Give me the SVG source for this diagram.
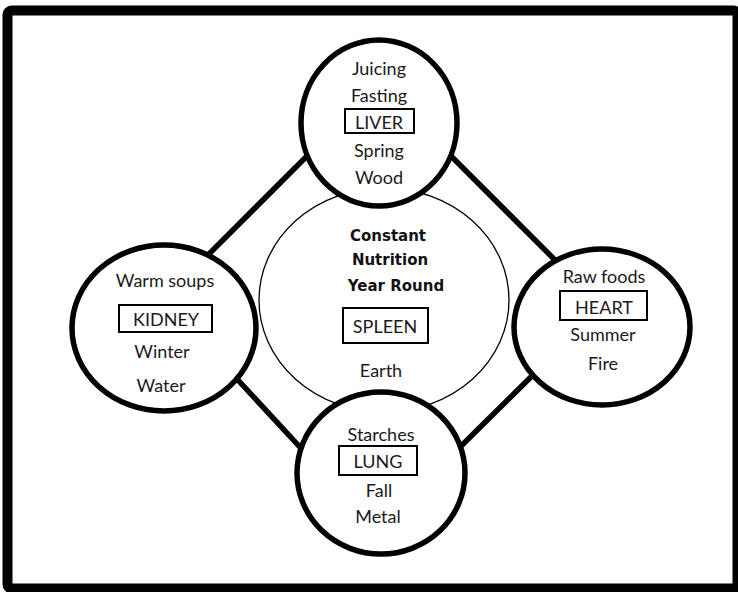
<svg xmlns="http://www.w3.org/2000/svg" width="738" height="592" viewBox="0 0 738 592">
<style>
.frame{fill:#fff;stroke:#000;stroke-width:10}
.node{fill:#fff;stroke:#000;stroke-width:5.5}
.core{fill:#fff;stroke:#000;stroke-width:1.3}
.con{stroke:#000;stroke-width:5.5;stroke-linecap:butt}
.t{font-family:Lato,"Open Sans",sans-serif;font-size:18px;fill:#1a1a1a;text-anchor:middle}
.b{font-family:"DejaVu Sans",sans-serif;font-weight:bold;font-size:15px;fill:#111;text-anchor:middle}
.box{fill:none;stroke:#000;stroke-width:2}
</style>
<rect class="frame" x="7.5" y="10.5" width="730" height="578" rx="4"/>
<g id="connectors">
<line class="con" x1="320" y1="143" x2="200" y2="263"/>
<line class="con" x1="440" y1="145" x2="565" y2="270"/>
<line class="con" x1="225" y1="366" x2="310" y2="458"/>
<line class="con" x1="540" y1="368" x2="450" y2="457"/>
</g>
<g id="spleen">
<ellipse class="core" cx="384" cy="300" rx="125" ry="112"/>
<text class="b" x="388" y="241">Constant</text>
<text class="b" x="390" y="265">Nutrition</text>
<text class="b" x="396" y="291">Year Round</text>
<rect class="box" x="343" y="308" width="85" height="35"/>
<text class="t" x="385" y="333">SPLEEN</text>
<text class="t" x="381" y="377">Earth</text>
</g>
<g id="liver">
<ellipse class="node" cx="379" cy="123" rx="78" ry="83"/>
<text class="t" x="379" y="75">Juicing</text>
<text class="t" x="379" y="102">Fasting</text>
<rect class="box" x="345" y="109" width="69" height="24"/>
<text class="t" x="379" y="129">LIVER</text>
<text class="t" x="379" y="157">Spring</text>
<text class="t" x="379" y="184">Wood</text>
</g>
<g id="kidney">
<ellipse class="node" cx="164" cy="328" rx="92" ry="83"/>
<text class="t" x="165" y="287">Warm soups</text>
<rect class="box" x="119" y="305" width="93" height="27"/>
<text class="t" x="166" y="326">KIDNEY</text>
<text class="t" x="162" y="358">Winter</text>
<text class="t" x="161" y="392">Water</text>
</g>
<g id="heart">
<ellipse class="node" cx="602" cy="327" rx="88" ry="78"/>
<text class="t" x="604" y="283">Raw foods</text>
<rect class="box" x="560" y="291" width="87" height="29"/>
<text class="t" x="604" y="314">HEART</text>
<text class="t" x="603" y="341">Summer</text>
<text class="t" x="603" y="370">Fire</text>
</g>
<g id="lung">
<ellipse class="node" cx="381" cy="473" rx="84" ry="81"/>
<text class="t" x="381" y="441">Starches</text>
<rect class="box" x="339" y="446" width="78" height="29"/>
<text class="t" x="378" y="468">LUNG</text>
<text class="t" x="379" y="497">Fall</text>
<text class="t" x="378" y="523">Metal</text>
</g>
</svg>
